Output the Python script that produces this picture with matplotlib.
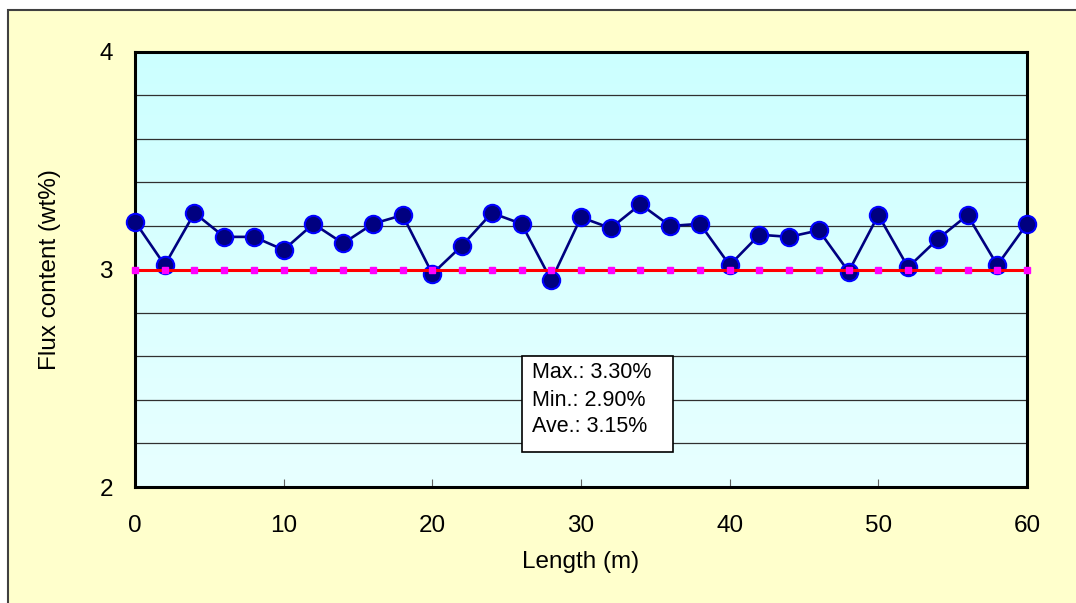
import numpy as np
import matplotlib
matplotlib.use('Agg')
import matplotlib.pyplot as plt
from matplotlib.patches import Rectangle

plt.rcParams['font.family'] = ['Liberation Sans', 'DejaVu Sans']

# measured flux content along the length
length = [0, 2, 4, 6, 8, 10, 12, 14, 16, 18, 20, 22, 24, 26, 28, 30,
          32, 34, 36, 38, 40, 42, 44, 46, 48, 50, 52, 54, 56, 58, 60]
flux = [3.22, 3.02, 3.26, 3.15, 3.15, 3.09, 3.21, 3.12, 3.21, 3.25, 2.98,
        3.11, 3.26, 3.21, 2.95, 3.24, 3.19, 3.30, 3.20, 3.21, 3.02, 3.16,
        3.15, 3.18, 2.99, 3.25, 3.01, 3.14, 3.25, 3.02, 3.21]
target = [3.0] * len(length)
stats = ['Max.: 3.30%', 'Min.: 2.90%', 'Ave.: 3.15%']

fig = plt.figure(figsize=(10.76, 6.03), dpi=100, facecolor='white')

# yellow chart area with border (top/left visible)
fig.patches.append(Rectangle((8 / 1076, -0.1), 1.2, (593 / 603) + 0.1,
                             transform=fig.transFigure, facecolor='#FFFFCC',
                             edgecolor='#404040', linewidth=1.5, zorder=-5))

ax = fig.add_axes([135 / 1076, (603 - 487) / 603, 892 / 1076, 435 / 603])
ax.set_zorder(1)

# light cyan gradient background
grad = np.linspace(0, 1, 256).reshape(-1, 1)
cmap = matplotlib.colors.LinearSegmentedColormap.from_list('bg', ['#CCFFFF', '#E8FFFF'])
ax.imshow(grad, extent=[0, 1, 0, 1], transform=ax.transAxes, cmap=cmap,
          aspect='auto', zorder=0, origin='upper')

ax.plot(length, flux, color='#000080', linewidth=1.9, marker='o',
        markersize=12.5, markerfacecolor='#000080', markeredgecolor='#0000FF',
        markeredgewidth=1.5, zorder=6, clip_on=False)
ax.plot(length, target, color='#FF0000', linewidth=2.2, marker='s',
        markersize=5, markerfacecolor='#FF00FF', markeredgecolor='#FF00FF',
        zorder=7, clip_on=False)

ax.set_xlim(0, 60)
ax.set_ylim(2, 4)
ax.set_xticks([0, 10, 20, 30, 40, 50, 60])
ax.set_yticks([2, 3, 4])
ax.set_yticks(np.arange(2.2, 4.0, 0.2), minor=True)
ax.yaxis.grid(True, which='both', color='#303030', linewidth=0.9, zorder=1)
ax.set_axisbelow(True)

ax.tick_params(axis='x', direction='in', length=6, color='#606060',
               labelsize=17.5, pad=20)
ax.tick_params(axis='y', which='major', direction='in', length=5,
               color='#606060', labelsize=17.5, pad=16)
ax.tick_params(axis='y', which='minor', length=0)

for s in ax.spines.values():
    s.set_linewidth(2.2)
    s.set_color('black')
    s.set_zorder(5)

ax.set_xlabel('Length (m)', fontsize=17.5)
ax.set_ylabel('Flux content (wt%)', fontsize=17.5)
ax.xaxis.set_label_coords(0.5, -0.148)
ax.yaxis.set_label_coords(-0.083, 0.5)

# statistics box
bx0, bx1 = (522 - 135) / 892, (673 - 135) / 892
by0, by1 = (487 - 452) / 435, (487 - 356) / 435
ax.add_patch(Rectangle((bx0, by0), bx1 - bx0, by1 - by0, transform=ax.transAxes,
                       facecolor='white', edgecolor='black', linewidth=1.2,
                       zorder=8))
for i, s in enumerate(stats):
    yy = (487 - (373 + 27 * i)) / 435
    ax.text((532 - 135) / 892, yy, s, transform=ax.transAxes, fontsize=15.5,
            va='center', ha='left', zorder=9)

fig.savefig('out.png', dpi=100, facecolor=fig.get_facecolor())
